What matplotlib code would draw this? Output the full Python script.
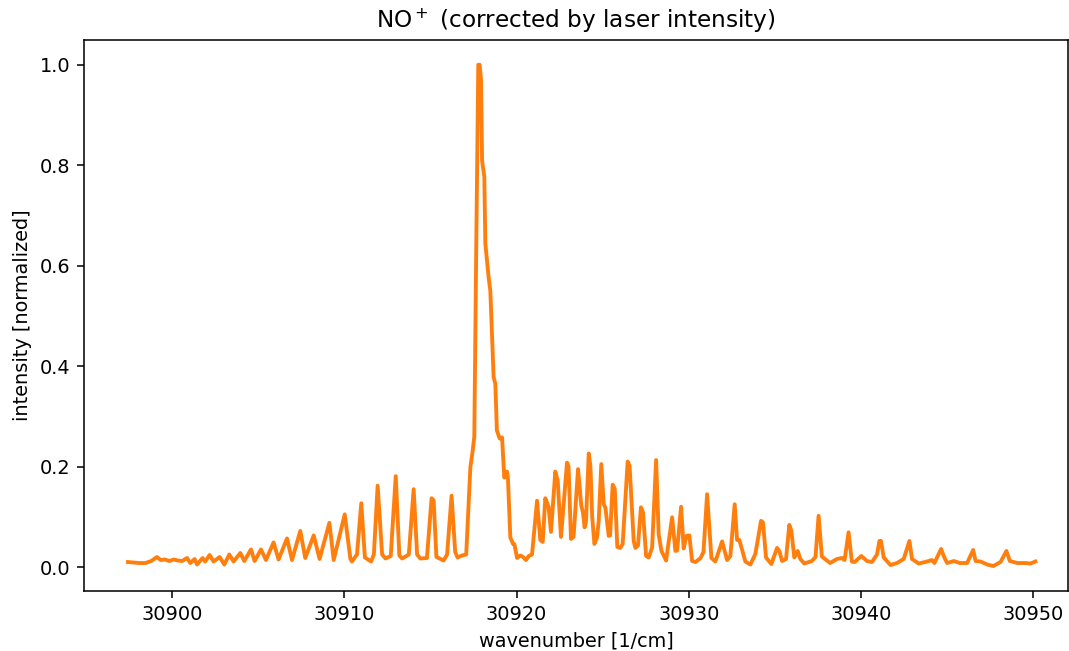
import numpy as np
import matplotlib.pyplot as plt

# spectrum, normalised to the strongest line
wavenumber = [
    30897.45, 30897.8, 30898.1, 30898.46, 30898.8, 30899.13, 30899.35, 30899.6,
    30899.85, 30900.1, 30900.35, 30900.6, 30900.88, 30901.07, 30901.32, 30901.46,
    30901.78, 30901.93, 30902.19, 30902.42, 30902.77, 30903.04, 30903.33, 30903.58,
    30903.97, 30904.2, 30904.59, 30904.8, 30905.17, 30905.46, 30905.9, 30906.19,
    30906.68, 30906.97, 30907.45, 30907.74, 30908.23, 30908.57, 30909.14, 30909.39,
    30910.03, 30910.36, 30910.45, 30910.74, 30910.99, 30911.2, 30911.56, 30911.72,
    30911.94, 30912.2, 30912.4, 30912.7, 30912.99, 30913.2, 30913.36, 30913.75,
    30914.03, 30914.23, 30914.42, 30914.8, 30915.07, 30915.19, 30915.35, 30915.54,
    30915.77, 30915.97, 30916.23, 30916.44, 30916.58, 30916.83, 30917.08, 30917.32,
    30917.45, 30917.55, 30917.66, 30917.78, 30917.86, 30917.94, 30918.0, 30918.13,
    30918.19, 30918.38, 30918.48, 30918.67, 30918.77, 30918.86, 30919.02, 30919.16,
    30919.29, 30919.45, 30919.5, 30919.64, 30919.8, 30919.88, 30920.03, 30920.22,
    30920.38, 30920.55, 30920.71, 30920.9, 30921.19, 30921.38, 30921.52, 30921.67,
    30921.86, 30922.0, 30922.25, 30922.39, 30922.58, 30922.93, 30923.02, 30923.16,
    30923.31, 30923.57, 30923.76, 30923.86, 30923.95, 30924.03, 30924.19, 30924.29,
    30924.39, 30924.52, 30924.67, 30924.77, 30924.92, 30925.06, 30925.16, 30925.35,
    30925.43, 30925.58, 30925.7, 30925.85, 30926.02, 30926.16, 30926.45, 30926.56,
    30926.8, 30926.9, 30927.05, 30927.22, 30927.34, 30927.52, 30927.67, 30927.87,
    30928.1, 30928.25, 30928.41, 30928.54, 30928.68, 30929.03, 30929.22, 30929.32,
    30929.55, 30929.7, 30929.86, 30930.03, 30930.19, 30930.39, 30930.68, 30930.85,
    30931.06, 30931.31, 30931.54, 30931.93, 30932.22, 30932.41, 30932.66, 30932.8,
    30932.93, 30933.28, 30933.57, 30933.86, 30934.19, 30934.3, 30934.48, 30934.79,
    30935.12, 30935.25, 30935.41, 30935.64, 30935.83, 30935.95, 30936.12, 30936.32,
    30936.47, 30936.7, 30937.14, 30937.35, 30937.53, 30937.72, 30938.2, 30938.59,
    30938.88, 30939.04, 30939.27, 30939.46, 30939.62, 30940.01, 30940.34, 30940.63,
    30940.92, 30941.06, 30941.15, 30941.31, 30941.7, 30942.08, 30942.47, 30942.8,
    30942.95, 30943.34, 30943.82, 30944.11, 30944.25, 30944.64, 30944.8, 30944.99,
    30945.38, 30945.73, 30946.15, 30946.5, 30946.64, 30946.93, 30947.32, 30947.67,
    30948.09, 30948.43, 30948.63, 30949.06, 30949.54, 30949.83, 30950.11,
]
intensity = [
    0.010, 0.009, 0.008, 0.008, 0.012, 0.020, 0.014, 0.015,
    0.012, 0.015, 0.013, 0.012, 0.018, 0.008, 0.016, 0.005,
    0.018, 0.011, 0.024, 0.011, 0.020, 0.005, 0.025, 0.011,
    0.028, 0.012, 0.035, 0.012, 0.035, 0.014, 0.049, 0.015,
    0.057, 0.014, 0.072, 0.018, 0.063, 0.016, 0.088, 0.014,
    0.105, 0.016, 0.011, 0.025, 0.127, 0.019, 0.011, 0.025,
    0.162, 0.025, 0.017, 0.022, 0.181, 0.023, 0.017, 0.025,
    0.155, 0.025, 0.017, 0.018, 0.137, 0.133, 0.020, 0.017,
    0.013, 0.025, 0.142, 0.030, 0.019, 0.023, 0.025, 0.198,
    0.230, 0.260, 0.630, 1.000, 1.000, 0.970, 0.810, 0.777,
    0.644, 0.577, 0.550, 0.378, 0.365, 0.272, 0.256, 0.258,
    0.178, 0.190, 0.178, 0.059, 0.046, 0.045, 0.018, 0.023,
    0.020, 0.014, 0.022, 0.025, 0.132, 0.054, 0.050, 0.137,
    0.120, 0.070, 0.190, 0.172, 0.060, 0.208, 0.200, 0.056,
    0.060, 0.195, 0.122, 0.108, 0.079, 0.090, 0.226, 0.200,
    0.100, 0.046, 0.059, 0.092, 0.205, 0.125, 0.118, 0.062,
    0.063, 0.164, 0.156, 0.040, 0.038, 0.046, 0.210, 0.202,
    0.052, 0.038, 0.043, 0.119, 0.109, 0.022, 0.019, 0.039,
    0.213, 0.065, 0.032, 0.023, 0.013, 0.099, 0.032, 0.033,
    0.120, 0.037, 0.062, 0.063, 0.012, 0.010, 0.018, 0.030,
    0.145, 0.018, 0.011, 0.051, 0.014, 0.022, 0.125, 0.054,
    0.054, 0.011, 0.005, 0.026, 0.092, 0.089, 0.019, 0.006,
    0.038, 0.032, 0.012, 0.016, 0.084, 0.072, 0.019, 0.032,
    0.016, 0.007, 0.012, 0.020, 0.102, 0.021, 0.008, 0.016,
    0.018, 0.014, 0.069, 0.011, 0.010, 0.022, 0.012, 0.010,
    0.025, 0.052, 0.052, 0.019, 0.004, 0.008, 0.016, 0.052,
    0.016, 0.007, 0.011, 0.014, 0.008, 0.036, 0.021, 0.008,
    0.012, 0.008, 0.008, 0.034, 0.012, 0.011, 0.005, 0.002,
    0.010, 0.032, 0.012, 0.008, 0.008, 0.007, 0.011,
]

fig, ax = plt.subplots(figsize=(1069 / 139, 651 / 139), dpi=139)
fig.subplots_adjust(left=0.0786, right=0.999, bottom=0.092, top=0.939)

ax.plot(wavenumber, intensity, color="tab:orange", linewidth=2)
ax.set_xlim(30894.9, 30952.0)

ax.set_title(r"NO$^+$ (corrected by laser intensity)")
ax.set_xlabel("wavenumber [1/cm]")
ax.set_ylabel("intensity [normalized]")

fig.savefig("out.png", dpi=139)
